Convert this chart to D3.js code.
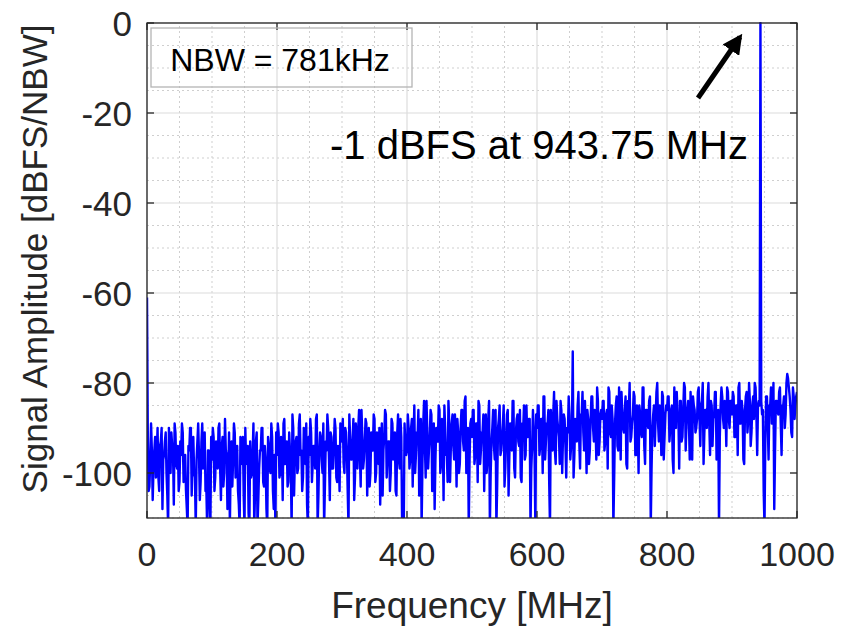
<!DOCTYPE html>
<html>
<head>
<meta charset="utf-8">
<script src="https://cdn.jsdelivr.net/npm/d3@7"></script>
<style>
  body { margin: 0; background: #fff; }
  svg text { font-family: "Liberation Sans", Arial, Helvetica, sans-serif; }
</style>
</head>
<body>
<div id="chart"></div>
<script>
const width = 842, height = 627;
const margin = {top: 23, right: 45, bottom: 109, left: 147};

// spectrum bins on the 2.5 MHz grid, 0..1000 MHz (dBFS/NBW)
const binStep = 2.5;
const spectrum = [
  -61, -104, -97, -95, -99, -92, -96, -101, -94, -90, -97, -93, -100, -112, -96, -91, -95, -89, -98, -94, -102, -96, -91, -99, -104, -112, -95, -90, -97, -100, -112, -93, -96, -102, -89, -98, -104, -112, -95, -112,
  -97, -92, -101, -95, -90, -99, -94, -103, -88, -96, -100, -112, -93, -97, -91, -99, -104, -112, -95, -92, -112, -98, -94, -112, -101, -96, -112, -93, -112, -99, -95, -90, -103, -97, -112, -94, -100, -92, -108, -112,
  -96, -91, -100, -94, -89, -98, -93, -102, -95, -112, -90, -97, -92, -99, -87, -95, -101, -93, -89, -112, -96, -91, -98, -94, -88, -112, -95, -92, -100, -112, -93, -87, -97, -91, -99, -94, -90, -102, -96, -89,
  -93, -98, -90, -95, -112, -92, -97, -88, -101, -94, -90, -96, -86, -99, -93, -89, -97, -103, -91, -95, -88, -100, -94, -90, -98, -105, -92, -87, -96, -93, -100, -89, -95, -104, -91, -97, -88, -112, -112, -94,
  -95, -90, -97, -88, -93, -100, -91, -86, -96, -112, -89, -94, -84, -99, -92, -87, -95, -108, -90, -93, -86, -98, -91, -85, -96, -102, -89, -94, -87, -97, -92, -88, -100, -90, -86, -95, -83, -93, -112, -89,
  -92, -86, -96, -89, -84, -98, -91, -87, -94, -100, -88, -112, -93, -86, -97, -112, -90, -85, -95, -89, -103, -92, -86, -96, -90, -84, -99, -91, -87, -94, -101, -89, -85, -96, -92, -88, -112, -94, -90, -112,
  -90, -85, -94, -88, -83, -97, -89, -86, -112, -92, -87, -95, -84, -90, -98, -86, -92, -88, -101, -91, -87, -94, -73, -96, -89, -85, -93, -87, -82, -95, -90, -86, -98, -88, -83, -93, -89, -81, -96, -87,
  -88, -84, -93, -86, -81, -91, -85, -112, -89, -83, -95, -87, -82, -90, -86, -98, -84, -80, -92, -87, -83, -96, -88, -85, -91, -81, -94, -86, -89, -84, -112, -90, -85, -88, -80, -93, -86, -82, -97, -87,
  -86, -83, -90, -85, -100, -88, -82, -87, -84, -93, -86, -81, -89, -84, -97, -87, -83, -86, -90, -82, -88, -85, -80, -91, -86, -83, -89, -84, -94, -87, -82, -88, -112, -85, -83, -90, -86, -81, -88, -84,
  -87, -83, -92, -85, -81, -89, -84, -97, -86, -82, -88, -84, -91, -83, -80, -87, -85, -85, -84, -86, -112, -83, -89, -85, -81, -88, -108, -84, -86, -82, -89, -85, -83, -87, -78, -81, -86, -92, -83, -85,
  -82
];
// bins in between, at 1.25 + 2.5*i MHz (the tone sits at 943.75 MHz)
const spectrumMid = [
  -92, -103, -89, -106, -95, -101, -90, -104, -93, -108, -96, -91, -105, -90, -100, -94, -107, -91, -99, -104, -93, -89, -102, -96, -108, -94, -90, -105, -92, -101, -97, -89, -106, -93, -99, -91, -103, -95, -107, -92,
  -90, -104, -93, -99, -89, -106, -92, -100, -95, -108, -91, -97, -103, -89, -101, -94, -107, -92, -98, -105, -90, -96, -109, -93, -100, -89, -104, -91, -106, -95, -90, -102, -94, -108, -92, -99, -89, -104, -96, -91,
  -89, -101, -92, -106, -88, -97, -103, -91, -99, -87, -105, -93, -100, -89, -96, -104, -90, -98, -107, -92, -88, -102, -94, -99, -87, -105, -91, -97, -89, -103, -95, -90, -106, -92, -99, -88, -101, -94, -104, -90,
  -88, -100, -91, -104, -87, -97, -93, -106, -89, -99, -86, -103, -92, -97, -88, -105, -90, -100, -94, -87, -102, -91, -98, -107, -89, -95, -86, -101, -93, -104, -88, -97, -91, -105, -87, -99, -92, -103, -89, -96,
  -87, -99, -90, -103, -85, -96, -92, -105, -88, -98, -84, -101, -91, -95, -86, -104, -89, -97, -93, -85, -100, -88, -106, -90, -96, -84, -102, -89, -94, -87, -103, -91, -98, -86, -93, -84, -100, -90, -97, -88,
  -86, -98, -89, -102, -85, -95, -91, -104, -87, -97, -84, -100, -90, -94, -86, -103, -88, -96, -92, -85, -99, -87, -105, -89, -95, -84, -101, -88, -93, -86, -102, -90, -97, -85, -92, -88, -99, -86, -96, -87,
  -85, -96, -88, -100, -83, -93, -89, -102, -86, -95, -82, -98, -88, -92, -84, -100, -87, -94, -90, -83, -97, -90, -101, -88, -93, -82, -99, -87, -91, -84, -100, -88, -95, -83, -90, -86, -97, -84, -93, -86,
  -84, -95, -87, -99, -82, -92, -88, -101, -85, -94, -81, -97, -87, -91, -83, -99, -86, -93, -89, -82, -96, -85, -100, -87, -92, -81, -98, -86, -90, -83, -99, -87, -94, -82, -89, -85, -96, -83, -92, -85,
  -83, -93, -86, -97, -81, -90, -87, -99, -84, -92, -80, -95, -86, -89, -82, -97, -85, -91, -88, -81, -94, -84, -98, -86, -90, -80, -96, -85, -88, -82, -97, -86, -92, -81, -88, -84, -94, -82, -90, -84,
  -82, -92, -85, -96, -80, -89, -86, -98, -83, -91, -80, -94, -85, -88, -81, -96, -84, 0, -87, -104, -93, -83, -97, -85, -89, -80, -95, -84, -87, -81, -96, -85, -90, -80, -79, -83, -91, -81, -88, -83
];

const xTicks = [0, 200, 400, 600, 800, 1000];
const yTicks = [-100, -80, -60, -40, -20, 0];
const xMinor = d3.range(0, 1001, 50);
const yMinor = d3.range(-110, 1, 5);

const points = spectrum.map((v, i) => ({f: i * binStep, v}))
  .concat(spectrumMid.map((v, i) => ({f: binStep / 2 + i * binStep, v})))
  .sort((a, b) => a.f - b.f);

const svg = d3.select("#chart").append("svg")
  .attr("width", width)
  .attr("height", height);

const x = d3.scaleLinear().domain([0, 1000]).range([margin.left, width - margin.right]);
const y = d3.scaleLinear().domain([-110, 0]).range([height - margin.bottom, margin.top]);

// grid
const grid = svg.append("g");
grid.selectAll(".xm").data(xMinor.filter(d => d % 200 !== 0)).join("line")
  .attr("x1", d => x(d)).attr("x2", d => x(d))
  .attr("y1", y(-110)).attr("y2", y(0))
  .attr("stroke", "#cfcfcf").attr("stroke-width", 1).attr("stroke-dasharray", "2,3");
grid.selectAll(".ym").data(yMinor.filter(d => d % 20 !== 0)).join("line")
  .attr("y1", d => y(d)).attr("y2", d => y(d))
  .attr("x1", x(0)).attr("x2", x(1000))
  .attr("stroke", "#cfcfcf").attr("stroke-width", 1).attr("stroke-dasharray", "2,3");
grid.selectAll(".xM").data(xTicks).join("line")
  .attr("x1", d => x(d)).attr("x2", d => x(d))
  .attr("y1", y(-110)).attr("y2", y(0))
  .attr("stroke", "#dcdcdc").attr("stroke-width", 1.2);
grid.selectAll(".yM").data(yTicks).join("line")
  .attr("y1", d => y(d)).attr("y2", d => y(d))
  .attr("x1", x(0)).attr("x2", x(1000))
  .attr("stroke", "#dcdcdc").attr("stroke-width", 1.2);

// trace
svg.append("clipPath").attr("id", "clip")
  .append("rect")
  .attr("x", x(0)).attr("y", y(0) - 1)
  .attr("width", x(1000) - x(0)).attr("height", y(-110) - y(0) + 1);

const line = d3.line().x(d => x(d.f)).y(d => y(d.v));
svg.append("path")
  .datum(points)
  .attr("clip-path", "url(#clip)")
  .attr("fill", "none")
  .attr("stroke", "#0000ff")
  .attr("stroke-width", 2.4)
  .attr("stroke-linejoin", "round")
  .attr("d", line);

// axes (box with inward ticks)
const axisColor = "#262626";
const tick = 7;
const ax = svg.append("g").attr("stroke", axisColor).attr("stroke-width", 1.3);
ax.append("rect")
  .attr("x", x(0)).attr("y", y(0))
  .attr("width", x(1000) - x(0)).attr("height", y(-110) - y(0))
  .attr("fill", "none");
xTicks.forEach(t => {
  ax.append("line").attr("x1", x(t)).attr("x2", x(t)).attr("y1", y(-110)).attr("y2", y(-110) - tick);
  ax.append("line").attr("x1", x(t)).attr("x2", x(t)).attr("y1", y(0)).attr("y2", y(0) + tick);
});
yTicks.forEach(t => {
  ax.append("line").attr("y1", y(t)).attr("y2", y(t)).attr("x1", x(0)).attr("x2", x(0) + tick);
  ax.append("line").attr("y1", y(t)).attr("y2", y(t)).attr("x1", x(1000)).attr("x2", x(1000) - tick);
});

svg.append("g").selectAll("text").data(xTicks).join("text")
  .attr("x", d => x(d)).attr("y", y(-110) + 48)
  .attr("text-anchor", "middle")
  .attr("font-size", 34).attr("fill", axisColor)
  .text(d => d);
svg.append("g").selectAll("text").data(yTicks).join("text")
  .attr("x", x(0) - 15).attr("y", d => y(d) + 13)
  .attr("text-anchor", "end")
  .attr("font-size", 35).attr("fill", axisColor)
  .text(d => d);

svg.append("text")
  .attr("x", (x(0) + x(1000)) / 2).attr("y", 618)
  .attr("text-anchor", "middle")
  .attr("font-size", 37).attr("fill", axisColor)
  .text("Frequency [MHz]");
svg.append("text")
  .attr("transform", "translate(47,259) rotate(-90)")
  .attr("text-anchor", "middle")
  .attr("font-size", 35).attr("fill", axisColor)
  .text("Signal Amplitude [dBFS/NBW]");

// NBW box
svg.append("rect")
  .attr("x", 151).attr("y", 28).attr("width", 261).attr("height", 59)
  .attr("fill", "none").attr("stroke", "#b4b4b4").attr("stroke-width", 1.3);
svg.append("text")
  .attr("x", 280).attr("y", 71)
  .attr("text-anchor", "middle")
  .attr("font-size", 32).attr("fill", "#000")
  .text("NBW = 781kHz");

// annotation
svg.append("defs").append("marker")
  .attr("id", "head").attr("viewBox", "0 0 10 10")
  .attr("refX", 8).attr("refY", 5)
  .attr("markerWidth", 4).attr("markerHeight", 4)
  .attr("orient", "auto")
  .append("path").attr("d", "M0,0 L10,5 L0,10 z").attr("fill", "#000");
svg.append("line")
  .attr("x1", 698).attr("y1", 98).attr("x2", 740).attr("y2", 37)
  .attr("stroke", "#000").attr("stroke-width", 5)
  .attr("marker-end", "url(#head)");
svg.append("text")
  .attr("x", 330).attr("y", 159)
  .attr("font-size", 40).attr("fill", "#000")
  .text("-1 dBFS at 943.75 MHz");
</script>
</body>
</html>
